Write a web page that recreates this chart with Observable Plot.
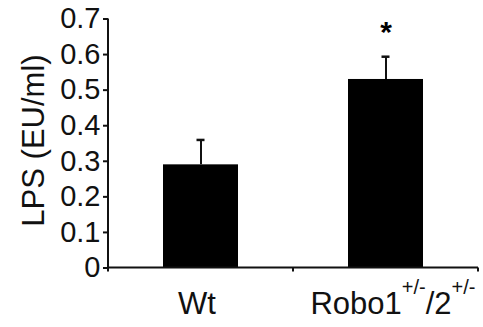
<!DOCTYPE html>
<html>
<head>
<meta charset="utf-8">
<script src="https://cdn.jsdelivr.net/npm/d3@7"></script>
<script src="https://cdn.jsdelivr.net/npm/@observablehq/plot@0.6"></script>
<style>
  html, body { margin: 0; padding: 0; background: #fff; }
  #chart { width: 483px; height: 327px; }
</style>
</head>
<body>
<div id="chart"></div>
<script>
// ---- data ----
const categories = ["Wt", "Robo1+/-/2+/-"];
const values = [0.29, 0.53];
const errors = [0.07, 0.064];
const significant = [false, true];
const yTicks = [0, 0.1, 0.2, 0.3, 0.4, 0.5, 0.6, 0.7];
const yLabel = "LPS (EU/ml)";
const supText = "+/-";

const data = categories.map((c, i) => ({
  category: c, value: values[i], err: errors[i], sig: significant[i]
}));

const ink = "#111";

// axis lines + band-boundary ticks drawn from the scales
function axesFrame(index, scales, vals, dims) {
  const g = d3.create("svg:g").attr("stroke", ink).attr("stroke-width", 2).attr("fill", "none");
  const x = scales.x, y = scales.y;
  const x0 = dims.marginLeft, x1 = dims.width - dims.marginRight;
  const bw = x.bandwidth ? x.bandwidth() : (x1 - x0) / categories.length;
  const yb = y(0), yt = y(yTicks[yTicks.length - 1]);
  g.append("line").attr("x1", x0).attr("x2", x0).attr("y1", yt).attr("y2", yb);
  g.append("line").attr("x1", x0).attr("x2", x1).attr("y1", yb).attr("y2", yb);
  const bounds = categories.map(c => x(c)).concat([x(categories[categories.length - 1]) + bw]);
  bounds.forEach(b => g.append("line").attr("x1", b).attr("x2", b).attr("y1", yb).attr("y2", yb + 4));
  return g.node();
}

const chart = Plot.plot({
  width: 483,
  height: 327,
  marginLeft: 108,
  marginRight: 5,
  marginTop: 18.5,
  marginBottom: 59.5,
  style: { fontFamily: "'Liberation Sans', Arial, sans-serif", background: "#fff", color: ink },
  x: { domain: categories, padding: 0, label: null, axis: null },
  y: { domain: [0, 0.7], label: null, axis: null },
  marks: [
    Plot.barY(data, { x: "category", y: "value", fill: "#000", insetLeft: 55, insetRight: 55 }),
    Plot.ruleX(data, { x: "category", y1: "value", y2: d => d.value + d.err, stroke: ink, strokeWidth: 2 }),
    Plot.tickY(data, { x: "category", y: d => d.value + d.err, stroke: ink, strokeWidth: 2.5, insetLeft: 88.5, insetRight: 88.5 }),
    Plot.text(data.filter(d => d.sig), { x: "category", y: d => d.value + d.err, text: () => "*", fontSize: 30, fontWeight: "bold", fill: "#000", dy: -24 }),
    Plot.axisY({ ticks: yTicks, tickFormat: d => d === 0 ? "0" : d.toFixed(1), tickSize: 5, tickPadding: 3, fontSize: 29, stroke: ink, strokeWidth: 2, label: null }),
    Plot.text([yLabel], { frameAnchor: "left", textAnchor: "middle", rotate: -90, dx: -74, dy: -3, fontSize: 31, fill: ink }),
    Plot.axisX({ tickSize: 0, tickPadding: 24, fontSize: 31, label: null, tickFormat: d => d }),
    axesFrame
  ]
});

document.getElementById("chart").appendChild(chart);

// render the superscripts of the genotype label as real text
d3.select(chart).selectAll("text").each(function () {
  const t = d3.select(this);
  if (this.childElementCount === 0) {
    if (t.text() === categories[1]) {
      t.text("");
      t.attr("dx", 7);
      t.append("tspan").text("Robo1");
      t.append("tspan").attr("font-size", 20).attr("dy", -20).text(supText);
      t.append("tspan").attr("dy", 20).text("/2");
      t.append("tspan").attr("font-size", 20).attr("dy", -20).text(supText);
    } else if (t.text() === categories[0]) {
      t.attr("dx", -4);
    }
  }
});
</script>
</body>
</html>
